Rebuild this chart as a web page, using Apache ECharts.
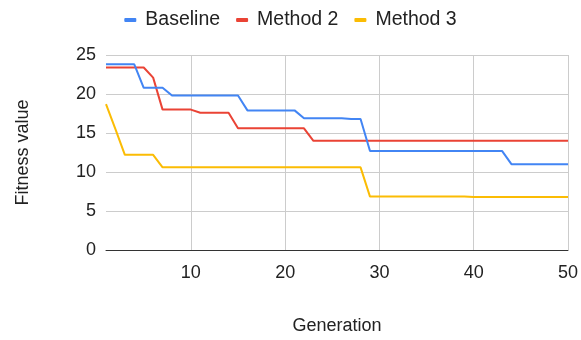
<!DOCTYPE html>
<html style="height: 100%">
   <head>
       <meta charset="utf-8">
   </head>
   <body style="height: 100%; margin: 0; background: #fff">
       <div id="container" style="width: 581px; height: 340px"></div>
       <script type="text/javascript" src="https://cdn.jsdelivr.net/npm/echarts/dist/echarts.min.js"></script>
       <script type="text/javascript">
var generations = [];
for (var g = 1; g <= 50; g++) generations.push(g);

var seriesNames = ['Baseline', 'Method 2', 'Method 3'];

var baseline = [
    23.8, 23.8, 23.8, 23.8, 20.8, 20.8, 20.8, 19.8, 19.8, 19.8,
    19.8, 19.8, 19.8, 19.8, 19.8, 17.9, 17.9, 17.9, 17.9, 17.9,
    17.9, 16.9, 16.9, 16.9, 16.9, 16.9, 16.8, 16.8, 12.7, 12.7,
    12.7, 12.7, 12.7, 12.7, 12.7, 12.7, 12.7, 12.7, 12.7, 12.7,
    12.7, 12.7, 12.7, 11.0, 11.0, 11.0, 11.0, 11.0, 11.0, 11.0
];
var method2 = [
    23.4, 23.4, 23.4, 23.4, 23.4, 22.1, 18.0, 18.0, 18.0, 18.0,
    17.6, 17.6, 17.6, 17.6, 15.6, 15.6, 15.6, 15.6, 15.6, 15.6,
    15.6, 15.6, 14.0, 14.0, 14.0, 14.0, 14.0, 14.0, 14.0, 14.0,
    14.0, 14.0, 14.0, 14.0, 14.0, 14.0, 14.0, 14.0, 14.0, 14.0,
    14.0, 14.0, 14.0, 14.0, 14.0, 14.0, 14.0, 14.0, 14.0, 14.0
];
var method3 = [
    18.7, 15.5, 12.2, 12.2, 12.2, 12.2, 10.6, 10.6, 10.6, 10.6,
    10.6, 10.6, 10.6, 10.6, 10.6, 10.6, 10.6, 10.6, 10.6, 10.6,
    10.6, 10.6, 10.6, 10.6, 10.6, 10.6, 10.6, 10.6, 6.85, 6.85,
    6.85, 6.85, 6.85, 6.85, 6.85, 6.85, 6.85, 6.85, 6.85, 6.8,
    6.8, 6.8, 6.8, 6.8, 6.8, 6.8, 6.8, 6.8, 6.8, 6.8
];
var colors = ['#4285F4', '#EA4335', '#FBBC04'];

function pairs(values) {
    return values.map(function (v, i) { return [generations[i], v]; });
}

var dom = document.getElementById("container");
var myChart = echarts.init(dom, null, {renderer: 'canvas'});
var font = 'Liberation Sans, Arial, sans-serif';

var option = {
    backgroundColor: '#fff',
    animation: false,
    color: colors,
    textStyle: {fontFamily: font},
    legend: {
        data: seriesNames,
        top: 5,
        left: 'center',
        icon: 'roundRect',
        itemWidth: 12,
        itemHeight: 4,
        itemGap: 16,
        textStyle: {fontSize: 19.5, color: '#222', fontFamily: font, padding: [0, 0, 0, 4]}
    },
    grid: {left: 106, right: 11, top: 55, bottom: 87},
    xAxis: {
        type: 'value',
        min: 1,
        max: 50,
        splitNumber: 5,
        name: 'Generation',
        nameLocation: 'middle',
        nameGap: 67,
        nameTextStyle: {fontSize: 18, color: '#222', fontFamily: font},
        axisLine: {show: true, lineStyle: {color: '#333', width: 1}},
        axisTick: {show: false},
        axisLabel: {
            fontSize: 18, color: '#222', margin: 14, fontFamily: font,
            showMinLabel: false
        },
        splitLine: {show: true, showMinLine: false, lineStyle: {color: '#ccc', width: 1}}
    },
    yAxis: {
        type: 'value',
        min: 0,
        max: 25,
        interval: 5,
        name: 'Fitness value',
        nameLocation: 'middle',
        nameGap: 74,
        nameTextStyle: {fontSize: 18, color: '#222', fontFamily: font},
        axisLine: {show: false},
        axisTick: {show: false},
        axisLabel: {fontSize: 18, color: '#222', margin: 10, fontFamily: font},
        splitLine: {lineStyle: {color: '#ccc', width: 1}}
    },
    series: [
        {name: seriesNames[0], type: 'line', data: pairs(baseline), showSymbol: false, lineStyle: {width: 2}, z: 3},
        {name: seriesNames[1], type: 'line', data: pairs(method2), showSymbol: false, lineStyle: {width: 2}, z: 2},
        {name: seriesNames[2], type: 'line', data: pairs(method3), showSymbol: false, lineStyle: {width: 2}, z: 1}
    ]
};

myChart.setOption(option, true);
       </script>
   </body>
</html>
